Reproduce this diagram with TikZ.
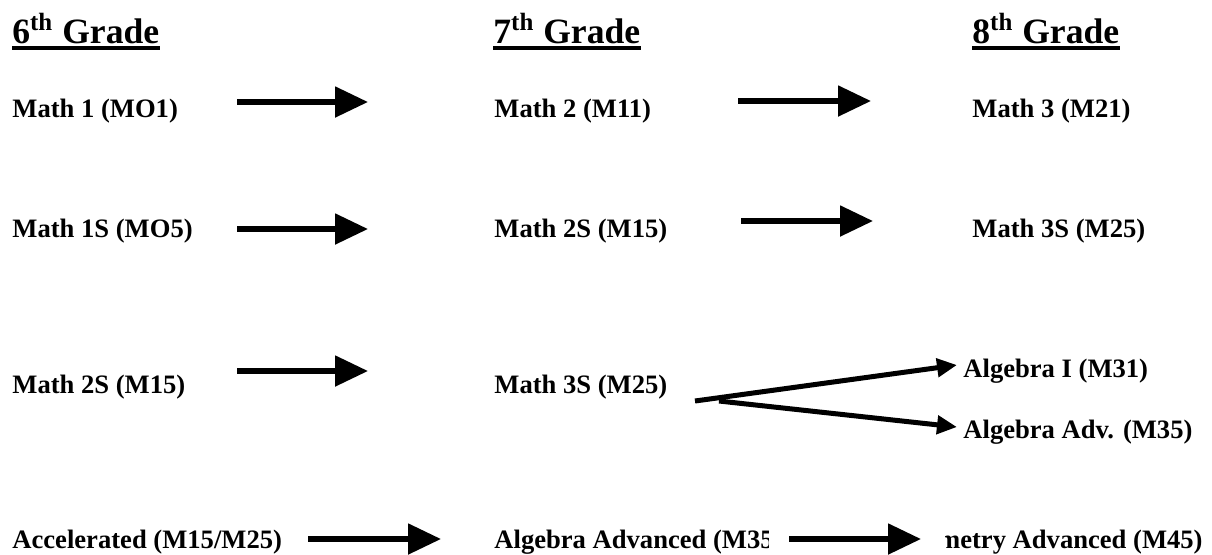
\documentclass[tikz,border=0pt]{standalone}
\usepackage{fontspec}
\setmainfont{Liberation Serif}
\usetikzlibrary{arrows.meta}

\begin{document}
\begin{tikzpicture}[x=0.5pt,y=-0.5pt,
    course/.style={anchor=base west,inner sep=0pt,font=\bfseries\fontsize{13.3}{16}\selectfont},
    grade/.style={anchor=base west,inner sep=0pt,font=\bfseries\fontsize{17.8}{21}\selectfont},
    uline/.style={line width=2pt},
    bigarrow/.style={line width=2.6pt,-{Triangle[length=16.5pt,width=15pt]}},
    forkarrow/.style={line width=2.5pt,-{Triangle[length=10pt,width=9pt]}}]
  \useasboundingbox (0,0) rectangle (1212,554);
  % grade headings
  \node[grade] (g6) at (12,43) {6\textsuperscript{th} Grade};
  \node[grade] (g7) at (493,43) {7\textsuperscript{th} Grade};
  \node[grade] (g8) at (972,43) {8\textsuperscript{th} Grade};
  \foreach \g in {g6,g7,g8}
    \draw[uline] ([yshift=-2.5pt]\g.base west) -- ([yshift=-2.5pt]\g.base east);
  % courses
  \node[course] (m1) at (12,117) {Math 1 (MO1)};
  \node[course] (m2) at (494,117) {Math 2 (M11)};
  \node[course] (m3) at (972,117) {Math 3 (M21)};
  \node[course] (m1s) at (12,237) {Math 1S (MO5)};
  \node[course] (m2s) at (494,237) {Math 2S (M15)};
  \node[course] (m3s) at (972,237) {Math 3S (M25)};
  \node[course] (m2sb) at (12,393) {Math 2S (M15)};
  \node[course] (m3sb) at (494,393) {Math 3S (M25)};
  \node[course] (alg1) at (963,377) {Algebra I (M31)};
  \node[course] (algadv) at (963,438) {Algebra Adv. (M35)};
  \node[course] (acc) at (12,548) {Accelerated (M15/M25)};
  \node[course] (algadvd) at (494,548) {Algebra Advanced (M35};
  \node[course,anchor=base east] (geoadv) at (1203,548) {metry Advanced (M45)};
  % box of the last arrow hides part of both texts
  \fill[white] ([xshift=-2.5pt]algadvd.south east) rectangle ([xshift=3.5pt]geoadv.north west);
  % arrows
  \foreach \xa/\xb/\y [count=\i] in {237/368/102, 738/871/101, 237/368/229, 741/873/221,
      237/368/371, 308/441/539, 789/921/539} {
    \coordinate (s\i) at (\xa,\y);
    \coordinate (e\i) at (\xb,\y);
    \draw[bigarrow] (s\i) -- (e\i);
  }
  \coordinate (fk1) at (695,401);
  \coordinate (fk2) at (719,401);
  \coordinate (tip1) at (957,365);
  \coordinate (tip2) at (957,427);
  \draw[forkarrow] (fk1) -- (tip1);
  \draw[forkarrow] (fk2) -- (tip2);
\end{tikzpicture}
\end{document}
